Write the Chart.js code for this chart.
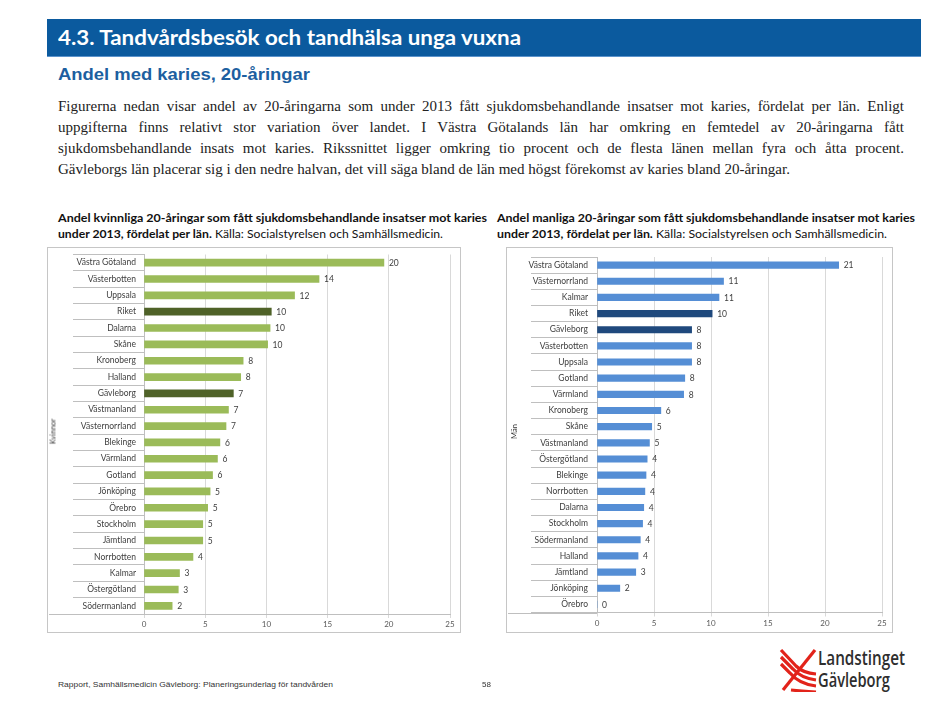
<!DOCTYPE html>
<html lang="sv">
<head>
<meta charset="utf-8">
<script src="https://cdn.jsdelivr.net/npm/chart.js@4.4.1/dist/chart.umd.min.js"></script>
<style>
  html, body { margin:0; padding:0; background:#fff; }
  body { width:944px; height:708px; position:relative; overflow:hidden; }
  .abs { position:absolute; white-space:nowrap; }
  #bar { left:47px; top:19px; width:874px; height:37px; background:#0b5a9e; border-bottom:1px solid #5b93cc; }
  #title { left:58px; top:24px; font:bold 21px Lato, sans-serif; color:#fff; line-height:26px; }
  #sub { left:58px; top:65px; font:bold 16px "Liberation Sans", Arial, sans-serif; color:#1d5fa0; line-height:20px; }
  .para { font:15px "Liberation Serif", "Times New Roman", serif; color:#222; line-height:20px; left:58px; }
  .cap { font:11.5px Lato, sans-serif; color:#111; line-height:15px; }
  .cap b { font-weight:bold; }
  .box { border:1px solid #c6c6c6; box-sizing:border-box; background:#fff; }
  canvas { position:absolute; left:0; top:0; }
  .axt { font:7.5px Lato, sans-serif; color:#333; transform-origin:center center; }
  #foot { left:58px; top:679px; font:8px "Liberation Sans Narrow", "Liberation Sans", sans-serif; color:#333; line-height:11px; }
  #pg { left:482px; top:679px; font:8px "Liberation Sans Narrow", "Liberation Sans", sans-serif; color:#333; line-height:11px; }
  .logo { font:600 20px "Open Sans", sans-serif; color:#2e2e2e; line-height:22px; }
</style>
</head>
<body>
<div id="bar" class="abs"></div>
<div id="title" class="abs" data-w="463">4.3. Tandvårdsbesök och tandhälsa unga vuxna</div>
<div id="sub" class="abs" data-w="252">Andel med karies, 20-åringar</div>

<div class="abs para" style="top:96px" data-j="846">Figurerna nedan visar andel av 20-åringarna som under 2013 fått sjukdomsbehandlande insatser mot karies, fördelat per län. Enligt</div>
<div class="abs para" style="top:117px" data-j="846">uppgifterna finns relativt stor variation över landet. I Västra Götalands län har omkring en femtedel av 20-åringarna fått</div>
<div class="abs para" style="top:138px" data-j="846">sjukdomsbehandlande insats mot karies. Rikssnittet ligger omkring tio procent och de flesta länen mellan fyra och åtta procent.</div>
<div class="abs para" style="top:159px" data-w="732">Gävleborgs län placerar sig i den nedre halvan, det vill säga bland de län med högst förekomst av karies bland 20-åringar.</div>

<div class="abs cap" style="left:58px; top:210px" data-w="429"><b>Andel kvinnliga 20-åringar som fått sjukdomsbehandlande insatser mot karies</b></div>
<div class="abs cap" style="left:58px; top:226px" data-w="385"><b>under 2013, fördelat per län.</b> Källa: Socialstyrelsen och Samhällsmedicin.</div>
<div class="abs cap" style="left:497px; top:210px" data-w="418"><b>Andel manliga 20-åringar som fått sjukdomsbehandlande insatser mot karies</b></div>
<div class="abs cap" style="left:497px; top:226px" data-w="390"><b>under 2013, fördelat per län.</b> Källa: Socialstyrelsen och Samhällsmedicin.</div>

<div class="abs box" style="left:47px; top:247px; width:414px; height:386px;">
  <canvas id="cw" width="414" height="386"></canvas>
</div>
<div class="abs box" style="left:506px; top:247px; width:387px; height:386px;">
  <canvas id="cm" width="387" height="386"></canvas>
</div>
<div class="abs axt" style="left:38px; top:427px; width:30px; text-align:center; transform:rotate(-90deg);">Kvinnor</div>
<div class="abs axt" style="left:499px; top:427px; width:30px; text-align:center; transform:rotate(-90deg);">Män</div>

<div id="foot" class="abs" data-w="275">Rapport, Samhällsmedicin Gävleborg: Planeringsunderlag för tandvården</div>
<div id="pg" class="abs">58</div>

<svg class="abs" style="left:779px; top:648px;" width="38" height="44" viewBox="0 0 38 44">
  <g fill="none" stroke="#e2231a" stroke-width="3.2" stroke-linecap="butt">
    <path d="M2,2 L17,18 Q24,25 37,26"/>
    <path d="M2,9 L14,21 Q22,30 37,32"/>
    <path d="M2,16 L11,25 Q20,36 37,38"/>
    <path d="M36,2 L4,42"/>
    <path d="M12,42 Q22,43 37,44"/>
  </g>
</svg>
<div class="abs logo" style="left:818px; top:647px;" data-w="87">Landstinget</div>
<div class="abs logo" style="left:818px; top:669px;" data-w="72">Gävleborg</div>

<script>
// ---------- data ----------
const womenCategories = ['Västra Götaland','Västerbotten','Uppsala','Riket','Dalarna','Skåne','Kronoberg','Halland','Gävleborg','Västmanland','Västernorrland','Blekinge','Värmland','Gotland','Jönköping','Örebro','Stockholm','Jämtland','Norrbotten','Kalmar','Östergötland','Södermanland'];
const womenValues = [19.6, 14.3, 12.3, 10.4, 10.3, 10.1, 8.1, 7.9, 7.3, 6.9, 6.7, 6.2, 6.0, 5.6, 5.4, 5.2, 4.8, 4.8, 4.0, 2.9, 2.8, 2.3];

const menCategories = ['Västra Götaland','Västernorrland','Kalmar','Riket','Gävleborg','Västerbotten','Uppsala','Gotland','Värmland','Kronoberg','Skåne','Västmanland','Östergötland','Blekinge','Norrbotten','Dalarna','Stockholm','Södermanland','Halland','Jämtland','Jönköping','Örebro'];
const menValues = [21.2, 11.1, 10.7, 10.1, 8.3, 8.3, 8.3, 7.7, 7.6, 5.6, 4.8, 4.6, 4.4, 4.3, 4.2, 4.1, 4.0, 3.8, 3.6, 3.4, 2.0, 0];

const highlighted = ['Riket', 'Gävleborg'];
const xTicks = [0, 5, 10, 15, 20, 25];

// ---------- text fitting ----------
function fitText() {
  document.querySelectorAll('[data-w]').forEach(el => {
    el.style.display = 'inline-block';
    const w = el.getBoundingClientRect().width;
    const t = parseFloat(el.dataset.w);
    el.style.transformOrigin = 'left top';
    el.style.transform = 'scaleX(' + (t / w) + ')';
  });
  document.querySelectorAll('[data-j]').forEach(el => {
    el.style.display = 'inline-block';
    const w = el.getBoundingClientRect().width;
    const t = parseFloat(el.dataset.j);
    const spaces = (el.textContent.match(/ /g) || []).length;
    if (w < t) {
      el.style.wordSpacing = ((t - w) / spaces) + 'px';
    } else {
      el.style.transformOrigin = 'left top';
      el.style.transform = 'scaleX(' + (t / w) + ')';
    }
  });
}
fitText();

// ---------- charts ----------
Chart.defaults.font.family = 'Lato, sans-serif';
Chart.defaults.color = '#404040';

const valueLabels = {
  id: 'valueLabels',
  afterDatasetsDraw(chart) {
    const ctx = chart.ctx;
    const meta = chart.getDatasetMeta(0);
    const data = chart.data.datasets[0].data;
    ctx.save();
    ctx.font = '8.5px Lato, sans-serif';
    ctx.fillStyle = '#404040';
    ctx.textAlign = 'left';
    ctx.textBaseline = 'middle';
    meta.data.forEach((bar, i) => {
      ctx.fillText(String(Math.round(data[i])), bar.x + 5, bar.y + 0.5);
    });
    ctx.restore();
  }
};

const bottomExtend = {
  id: 'bottomExtend',
  afterDraw(chart) {
    const ctx = chart.ctx;
    const a = chart.chartArea;
    ctx.save();
    ctx.strokeStyle = '#bfbfbf';
    ctx.lineWidth = 1;
    const y = Math.round(a.bottom) + 0.5;
    ctx.beginPath();
    ctx.moveTo(1, y);
    ctx.lineTo(a.left, y);
    ctx.stroke();
    ctx.restore();
  }
};

function makeChart(id, cats, vals, light, dark, cfg) {
  return new Chart(document.getElementById(id), {
    type: 'bar',
    data: {
      labels: cats,
      datasets: [{
        data: vals,
        backgroundColor: cats.map(c => highlighted.includes(c) ? dark : light),
        barThickness: cfg.bar,
        borderWidth: 0
      }]
    },
    options: {
      indexAxis: 'y',
      responsive: false,
      animation: false,
      devicePixelRatio: 1,
      layout: { padding: { left: 0, right: cfg.right, top: cfg.top, bottom: 0 } },
      plugins: { legend: { display: false }, tooltip: { enabled: false } },
      scales: {
        x: {
          min: 0, max: 25,
          afterBuildTicks: s => { s.ticks = xTicks.map(v => ({ value: v })); },
          afterFit: s => { s.height = cfg.xh; },
          grid: { color: '#d9d9d9', tickLength: 4, drawTicks: true },
          border: { display: true, color: '#bfbfbf' },
          ticks: { font: { size: 8 }, color: '#595959', padding: 2 }
        },
        y: {
          afterFit: s => { s.width = cfg.yw; },
          grid: { drawOnChartArea: false, tickLength: cfg.tl, color: '#bfbfbf', offset: true },
          border: { display: true, color: '#bfbfbf' },
          ticks: { font: { size: 8.5 }, color: '#404040', padding: cfg.pad, autoSkip: false }
        }
      }
    },
    plugins: [valueLabels, bottomExtend]
  });
}

makeChart('cw', womenCategories, womenValues, '#9bbb59', '#4f6228',
  { bar: 7, right: 12, top: 6.5, xh: 20, yw: 96, tl: 71, pad: -63 });
makeChart('cm', menCategories, menValues, '#558ed5', '#1f497d',
  { bar: 6.5, right: 12, top: 9, xh: 21.5, yw: 90, tl: 66, pad: -57 });
</script>
</body>
</html>
